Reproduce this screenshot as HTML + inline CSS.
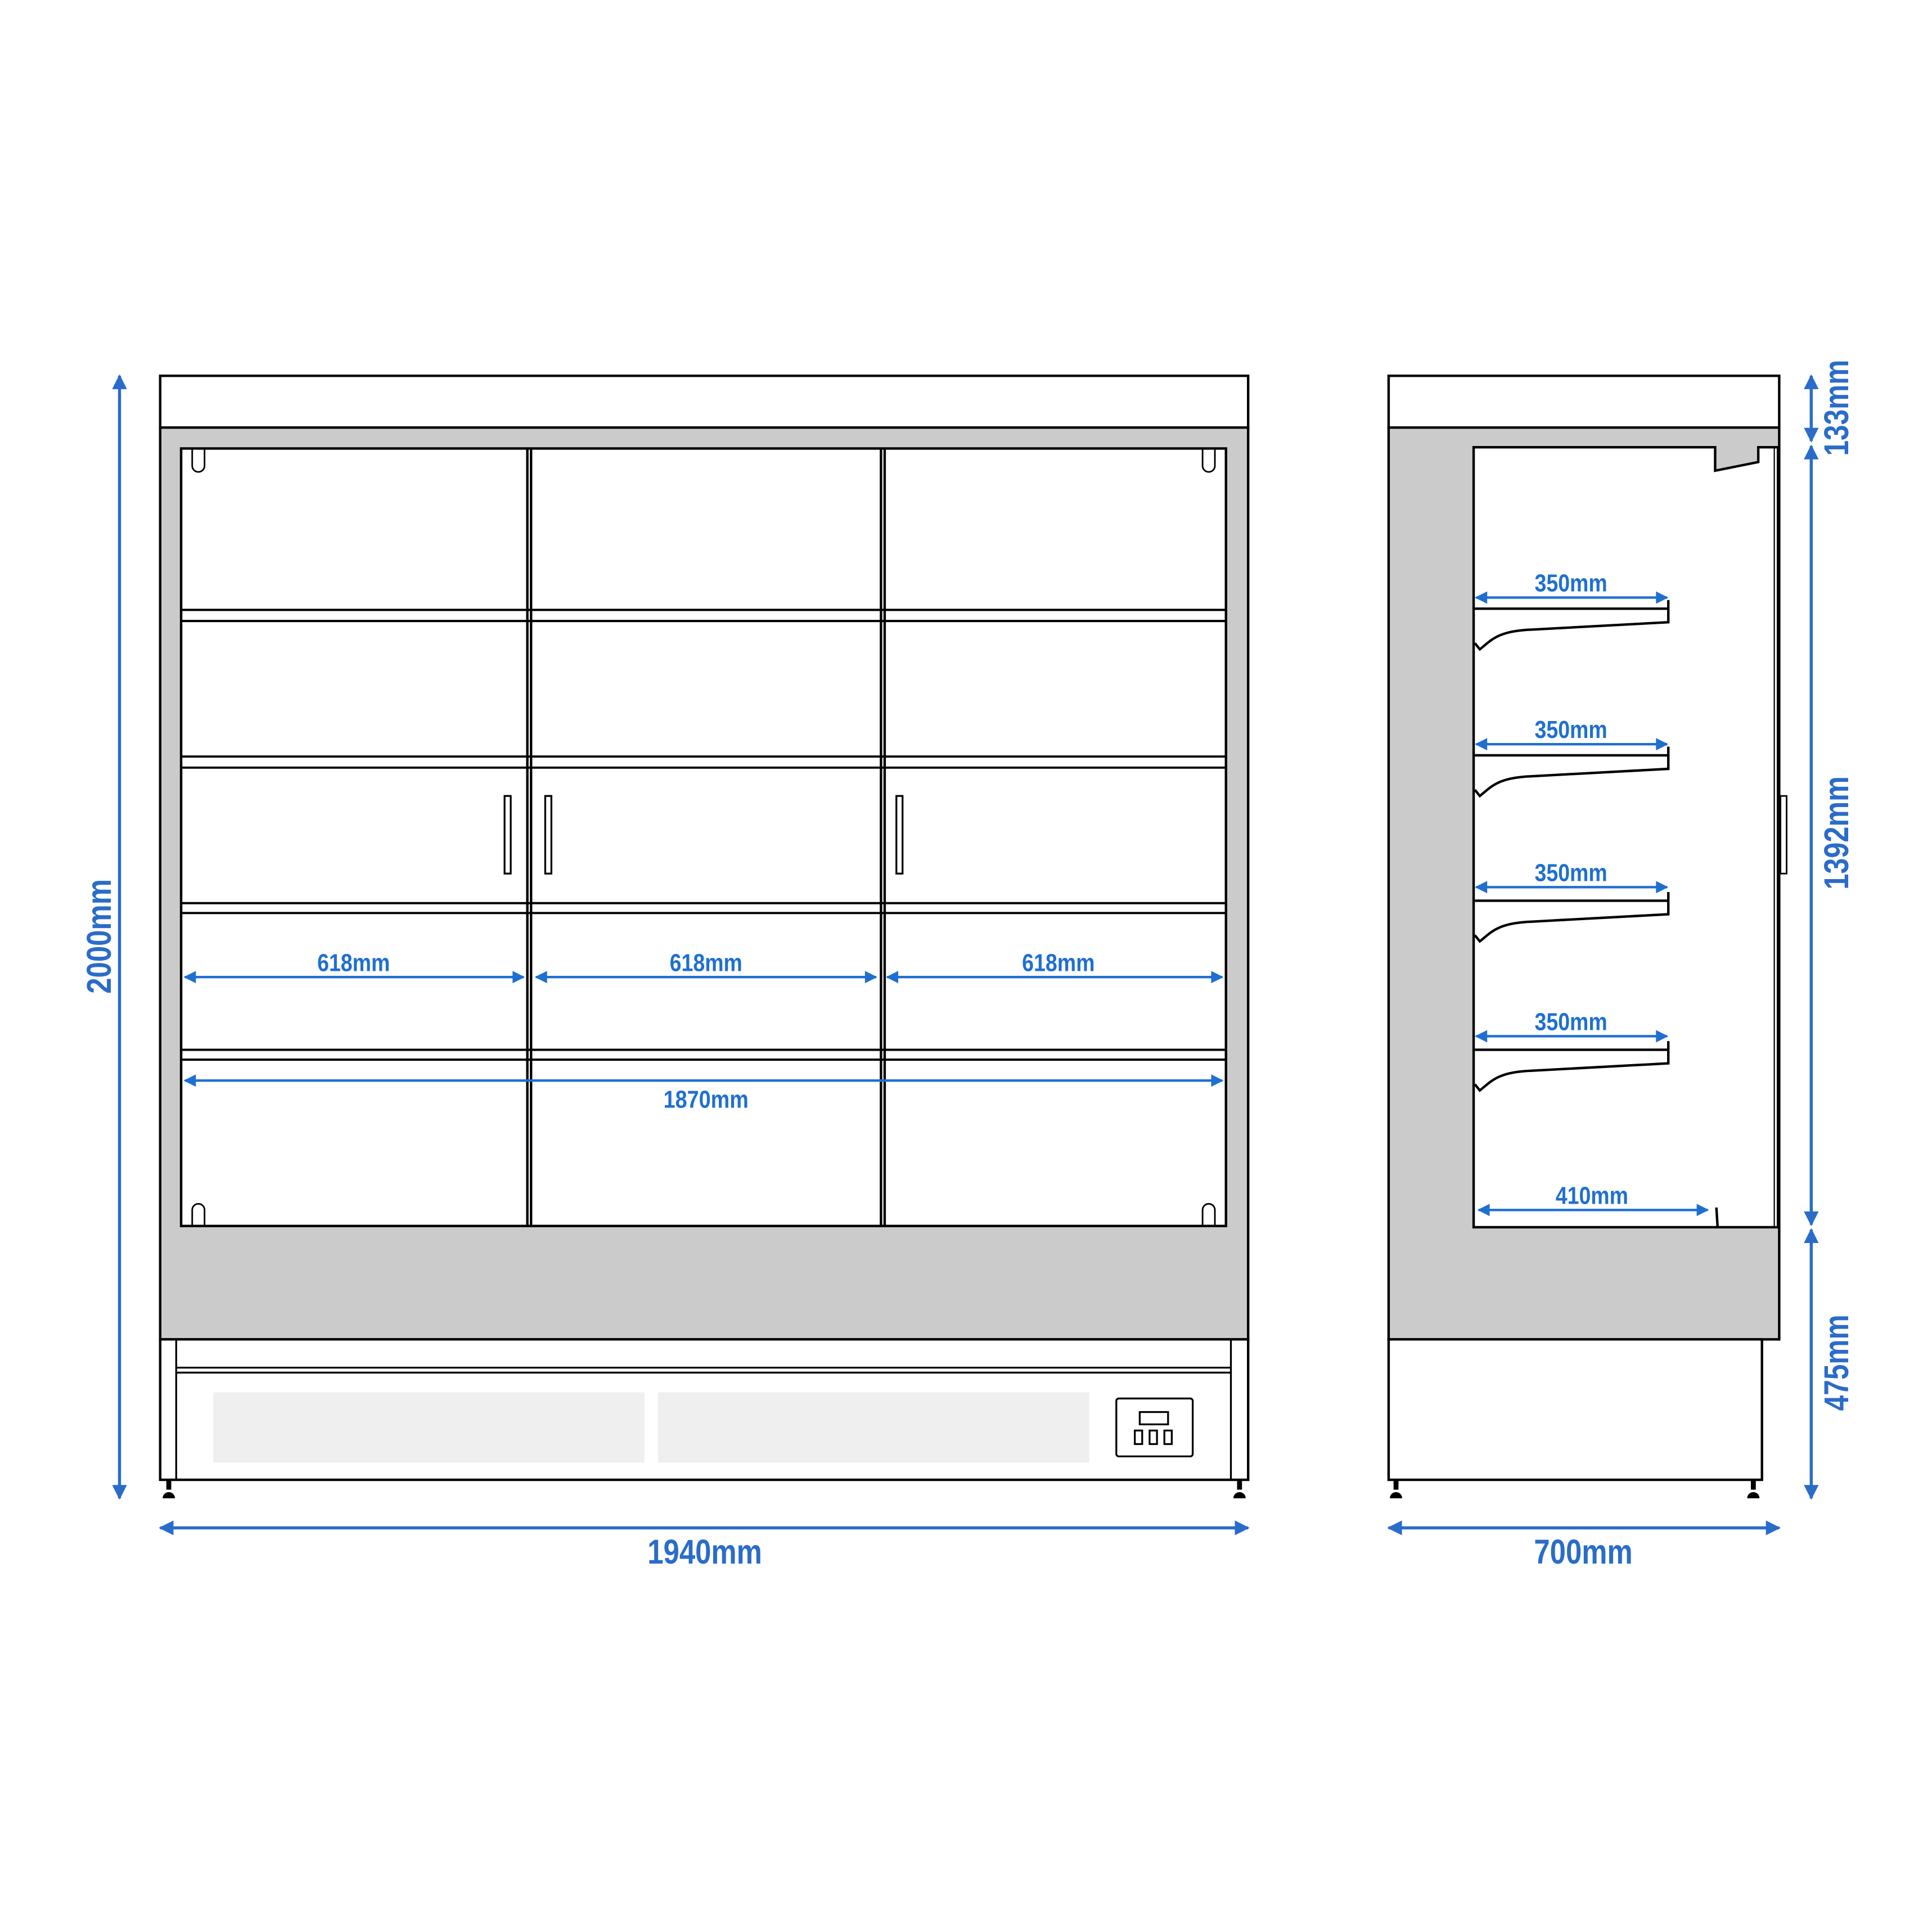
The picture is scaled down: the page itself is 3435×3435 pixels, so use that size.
<!DOCTYPE html>
<html><head><meta charset="utf-8"><style>html,body{margin:0;padding:0;background:#fff}svg{display:block}</style></head><body>
<svg width="3435" height="3435" viewBox="0 0 1568 1568" xmlns="http://www.w3.org/2000/svg">
<defs>
<marker id="a" viewBox="0 0 10 10" refX="9" refY="5" markerWidth="14" markerHeight="10" orient="auto-start-reverse" markerUnits="userSpaceOnUse"><path d="M0,0L10,5L0,10z" fill="#1f6fd1"/></marker>
<marker id="b" viewBox="0 0 10 10" refX="9" refY="5" markerWidth="20" markerHeight="12" orient="auto-start-reverse" markerUnits="userSpaceOnUse"><path d="M0,0L10,5L0,10z" fill="#2a6cc9"/></marker>
</defs>
<g stroke="#000" stroke-width="2" fill="none">
<rect x="130" y="305" width="883" height="42" fill="#fff"/>
<rect x="130" y="347" width="883" height="740" fill="#cbcbcb"/>
<rect x="147" y="364" width="848" height="631" fill="#fff"/>
<line x1="428" y1="364" x2="428" y2="995"/><line x1="431" y1="364" x2="431" y2="995"/>
<line x1="715" y1="364" x2="715" y2="995"/><line x1="718" y1="364" x2="718" y2="995"/>
<g stroke-width="1.8">
<line x1="147" y1="495" x2="995" y2="495"/><line x1="147" y1="504" x2="995" y2="504"/>
<line x1="147" y1="614" x2="995" y2="614"/><line x1="147" y1="623" x2="995" y2="623"/>
<line x1="147" y1="733" x2="995" y2="733"/><line x1="147" y1="741" x2="995" y2="741"/>
<line x1="147" y1="852" x2="995" y2="852"/><line x1="147" y1="860" x2="995" y2="860"/>
</g>
<g fill="#fff" stroke-width="1.5">
<rect x="409.5" y="646" width="5" height="63"/><rect x="442.5" y="646" width="5" height="63"/><rect x="727.5" y="646" width="5" height="63"/>
</g>
<g stroke-width="1.3">
<path d="M156,365V378A5,5 0 0 0 166,378V365"/><path d="M976,365V378A5,5 0 0 0 986,378V365"/>
<path d="M156,994V982A5,5 0 0 1 166,982V994"/><path d="M976,994V982A5,5 0 0 1 986,982V994"/>
</g>
<rect x="130" y="1087" width="883" height="114" fill="#fff"/>
<line x1="143" y1="1087" x2="143" y2="1201" stroke-width="1.5"/><line x1="999" y1="1087" x2="999" y2="1201" stroke-width="1.5"/>
<line x1="143" y1="1110" x2="999" y2="1110" stroke-width="1.5"/><line x1="143" y1="1114" x2="999" y2="1114" stroke-width="1.5"/>
<rect x="173" y="1130" width="350" height="57" fill="#efefef" stroke="none"/>
<rect x="534" y="1130" width="350" height="57" fill="#efefef" stroke="none"/>
<rect x="906" y="1135" width="62" height="47" rx="2" stroke-width="1.5"/>
<rect x="925" y="1146" width="23" height="10" stroke-width="1.5"/>
<rect x="921" y="1161" width="6" height="11" stroke-width="1.5"/><rect x="933" y="1161" width="6" height="11" stroke-width="1.5"/><rect x="945" y="1161" width="6" height="11" stroke-width="1.5"/>
<rect x="1127" y="305" width="317" height="42" fill="#fff"/>
<path d="M1127,347H1444V1087H1127Z" fill="#cbcbcb"/>
<path d="M1196,996V363H1392V382L1427,375V363H1443V996Z" fill="#fff"/>
<line x1="1440" y1="364" x2="1440" y2="996" stroke-width="1"/>
<rect x="1445" y="646" width="5" height="63" fill="#fff" stroke-width="1.3"/>
<rect x="1127" y="1087" width="303" height="114" fill="#fff"/>
</g>
<g stroke="#000" stroke-width="2" fill="none">
<g id="sh"><path d="M1197,494H1353M1354,487V505L1243,511C1215,512 1210,520 1201,527L1197,522"/></g>
<use href="#sh" y="119"/><use href="#sh" y="237"/><use href="#sh" y="358"/>
<line x1="1393" y1="980" x2="1394" y2="996"/>
</g>
<g fill="#000">
<rect x="135" y="1201" width="4" height="8"/><path d="M132,1216a5,5 0 0 1 10,0z"/>
<rect x="1004" y="1201" width="4" height="8"/><path d="M1001,1216a5,5 0 0 1 10,0z"/>
<rect x="1131" y="1201" width="4" height="8"/><path d="M1128,1216a5,5 0 0 1 10,0z"/>
<rect x="1421" y="1201" width="4" height="8"/><path d="M1418,1216a5,5 0 0 1 10,0z"/>
</g>
<g stroke="#1f6fd1" stroke-width="2" marker-start="url(#a)" marker-end="url(#a)">
<line x1="150" y1="793" x2="425" y2="793"/><line x1="435" y1="793" x2="711" y2="793"/><line x1="720" y1="793" x2="992" y2="793"/>
<line x1="150" y1="877" x2="992" y2="877"/>
<line x1="1198" y1="485" x2="1353" y2="485"/><line x1="1198" y1="604" x2="1353" y2="604"/>
<line x1="1198" y1="720" x2="1353" y2="720"/><line x1="1198" y1="841" x2="1353" y2="841"/>
<line x1="1200" y1="982" x2="1386" y2="982"/>
</g>
<g stroke="#2a6cc9" stroke-width="2.5" marker-start="url(#b)" marker-end="url(#b)">
<line x1="97" y1="305" x2="97" y2="1216"/>
<line x1="130" y1="1240" x2="1013" y2="1240"/>
<line x1="1127" y1="1240" x2="1444" y2="1240"/>
<line x1="1470" y1="305" x2="1470" y2="358"/>
<line x1="1470" y1="362" x2="1470" y2="994"/>
<line x1="1470" y1="998" x2="1470" y2="1216"/>
</g>
<g font-family="'Liberation Sans',sans-serif" font-weight="bold" text-anchor="middle">
<g fill="#1f6fd1" font-size="20">
<text x="287" y="788" textLength="59" lengthAdjust="spacingAndGlyphs">618mm</text>
<text x="573" y="788" textLength="59" lengthAdjust="spacingAndGlyphs">618mm</text>
<text x="859" y="788" textLength="59" lengthAdjust="spacingAndGlyphs">618mm</text>
<text x="573" y="899" textLength="69" lengthAdjust="spacingAndGlyphs">1870mm</text>
<text x="1275" y="480" textLength="59" lengthAdjust="spacingAndGlyphs">350mm</text>
<text x="1275" y="599" textLength="59" lengthAdjust="spacingAndGlyphs">350mm</text>
<text x="1275" y="715" textLength="59" lengthAdjust="spacingAndGlyphs">350mm</text>
<text x="1275" y="836" textLength="59" lengthAdjust="spacingAndGlyphs">350mm</text>
<text x="1292" y="977" textLength="59" lengthAdjust="spacingAndGlyphs">410mm</text>
</g>
<g fill="#2a6cc9" font-size="28">
<text x="572" y="1269" textLength="93" lengthAdjust="spacingAndGlyphs">1940mm</text>
<text x="1285" y="1269" textLength="80" lengthAdjust="spacingAndGlyphs">700mm</text>
<text transform="translate(90,760) rotate(-90)" textLength="93" lengthAdjust="spacingAndGlyphs">2000mm</text>
<text transform="translate(1500,331) rotate(-90)" textLength="78" lengthAdjust="spacingAndGlyphs">133mm</text>
<text transform="translate(1500,676) rotate(-90)" textLength="92" lengthAdjust="spacingAndGlyphs">1392mm</text>
<text transform="translate(1500,1106) rotate(-90)" textLength="78" lengthAdjust="spacingAndGlyphs">475mm</text>
</g>
</g>
</svg>
</body></html>
